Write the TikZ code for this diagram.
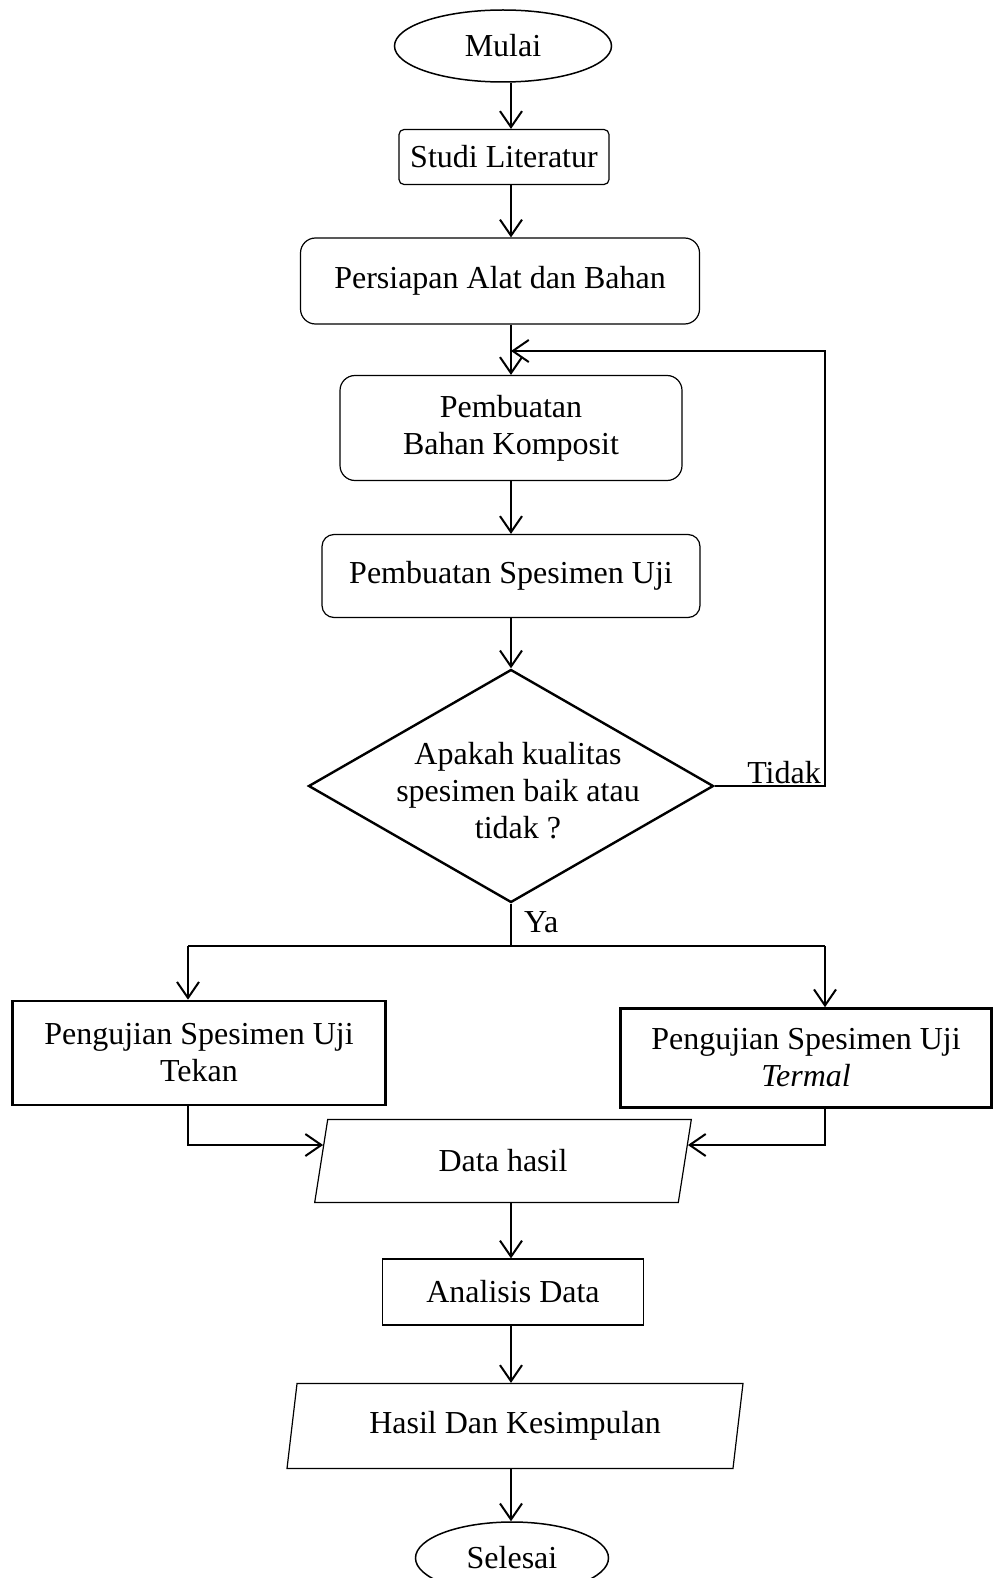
\documentclass[tikz,border=0pt]{standalone}
\usepackage{fontspec}
\setmainfont{Liberation Serif}
\usetikzlibrary{shapes.geometric,arrows.meta,calc}

\begin{document}
\begin{tikzpicture}[x=1pt, y=-1pt,
  every node/.style={font=\fontsize{32}{37}\selectfont, inner sep=0pt, align=center},
  terminal/.style={draw, ellipse, line width=1.5pt},
  proses/.style={draw, rounded corners=15pt, line width=1.2pt},
  kotak/.style={draw, line width=1.2pt},
  uji/.style={draw, line width=2.6pt},
  keputusan/.style={draw, diamond, line width=2.4pt},
  io/.style={draw, trapezium, trapezium stretches=true, line width=1.2pt},
  garis/.style={line width=2pt},
  panah/.style={line width=2pt, -{Straight Barb[length=16pt,width=22pt]}}]
\useasboundingbox (0,0) rectangle (995,1578);
\node[terminal, minimum width=217pt, minimum height=72pt] (mulai) at (503,46) {Mulai};
\node[proses, rounded corners=5pt, minimum width=210pt, minimum height=55pt] (studi) at (504,157) {Studi Literatur};
\node[proses, minimum width=399pt, minimum height=86pt] (persiapan) at (500,281) {Persiapan Alat dan Bahan};
\node[proses, minimum width=342pt, minimum height=105pt] (komposit) at (511,428) {Pembuatan\\Bahan Komposit};
\node[proses, rounded corners=12pt, minimum width=378pt, minimum height=83pt] (spesimen) at (511,576) {Pembuatan Spesimen Uji};
\node[keputusan, minimum width=405pt, minimum height=233pt] (cek) at (511,786) {};
\node (cektanya) at (518,791) {Apakah kualitas\\spesimen baik atau\\tidak ?};
\node[uji, minimum width=373pt, minimum height=104pt] (tekan) at (199,1053) {Pengujian Spesimen Uji\\Tekan};
\node[uji, minimum width=371pt, minimum height=99pt] (termal) at (806,1058) {Pengujian Spesimen Uji\\\textit{Termal}};
\node[io, trapezium left angle=78, trapezium right angle=102, minimum width=377pt, minimum height=83pt] (data) at (503,1161) {Data hasil};
\node[kotak, minimum width=261pt, minimum height=66pt] (analisis) at (513,1292) {Analisis Data};
\node[io, trapezium left angle=77, trapezium right angle=103, minimum width=458pt, minimum height=85pt] (hasil) at (515,1426) {Hasil Dan Kesimpulan};
\node[terminal, minimum width=193pt, minimum height=72pt] (selesai) at (512,1558) {Selesai};
\node[anchor=base east] (tidak) at (821,783) {Tidak};
\node[anchor=west] (ya) at (524,922) {Ya};
\coordinate (sumbu) at (511,0);
\coordinate (balik) at (825,351);
\coordinate (cabkiri) at (188,946);
\coordinate (cabkanan) at (825,946);
\draw[panah] (mulai.south -| sumbu) -- (studi.north -| sumbu);
\draw[panah] (studi.south -| sumbu) -- (persiapan.north -| sumbu);
\draw[panah] (persiapan.south -| sumbu) -- (komposit.north -| sumbu);
\draw[panah] (komposit.south -| sumbu) -- (spesimen.north -| sumbu);
\draw[panah] (spesimen.south -| sumbu) -- (cek.north);
\draw[panah] (cek.east) -| (balik) -- (sumbu |- balik);
\draw[garis] (cek.south) -- (cek.south |- cabkiri);
\draw[garis] (cabkiri) -- (cabkanan);
\draw[panah] (cabkiri) -- (cabkiri |- tekan.north);
\draw[panah] (cabkanan) -- (cabkanan |- termal.north);
\draw[panah] (cabkiri |- tekan.south) |- ($(data.top left corner)!0.31!(data.bottom left corner)$);
\draw[panah] (cabkanan |- termal.south) |- ($(data.top right corner)!0.31!(data.bottom right corner)$);
\draw[panah] (data.south -| sumbu) -- (analisis.north -| sumbu);
\draw[panah] (analisis.south -| sumbu) -- (hasil.north -| sumbu);
\draw[panah] (hasil.south -| sumbu) -- (selesai.north -| sumbu);
\end{tikzpicture}
\end{document}
